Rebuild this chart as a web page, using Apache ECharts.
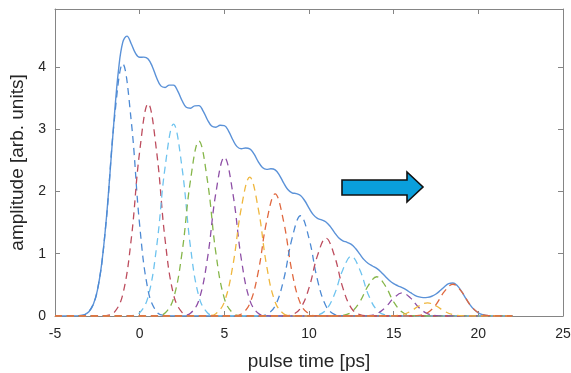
<!DOCTYPE html>
<html>
<head>
<meta charset="utf-8">
<script src="https://cdn.jsdelivr.net/npm/echarts@6/dist/echarts.min.js"></script>
<style>
  html, body { margin: 0; padding: 0; background: #fff; }
  #chart { width: 571px; height: 373px; }
</style>
</head>
<body>
<div id="chart"></div>
<script>
  // envelope (solid line): [pulse time, amplitude]
  var envelope = [
    [-5, 0], [-4, 0], [-3.75, 0.002], [-3.5, 0.007], [-3.25, 0.023], [-3, 0.068],
    [-2.75, 0.178], [-2.5, 0.408], [-2.25, 0.824], [-2, 1.465], [-1.75, 2.301],
    [-1.5, 3.196], [-1.25, 3.949], [-1, 4.394], [-0.75, 4.494], [-0.5, 4.372],
    [-0.25, 4.220], [0, 4.154], [0.25, 4.157], [0.5, 4.128], [0.75, 4.004],
    [1, 3.825], [1.25, 3.695], [1.5, 3.670], [1.75, 3.708], [2, 3.707],
    [2.25, 3.611], [2.5, 3.461], [2.75, 3.352], [3, 3.336], [3.25, 3.375],
    [3.5, 3.378], [3.75, 3.291], [4, 3.152], [4.25, 3.050], [4.5, 3.031],
    [4.75, 3.063], [5, 3.058], [5.25, 2.970], [5.5, 2.830], [5.75, 2.720],
    [6, 2.685], [6.25, 2.698], [6.5, 2.685], [6.75, 2.603], [7, 2.480],
    [7.25, 2.384], [7.5, 2.354], [7.75, 2.364], [8, 2.347], [8.25, 2.264],
    [8.5, 2.139], [8.75, 2.031], [9, 1.979], [9.25, 1.965], [9.5, 1.934],
    [9.75, 1.851], [10, 1.733], [10.25, 1.628], [10.5, 1.568], [10.75, 1.543],
    [11, 1.509], [11.25, 1.439], [11.5, 1.343], [11.75, 1.258], [12, 1.208],
    [12.25, 1.183], [12.5, 1.150], [12.75, 1.084], [13, 0.993], [13.25, 0.905],
    [13.5, 0.843], [13.75, 0.803], [14, 0.764], [14.25, 0.708], [14.5, 0.638],
    [14.75, 0.570], [15, 0.519], [15.25, 0.485], [15.5, 0.455], [15.75, 0.418],
    [16, 0.374], [16.25, 0.333], [16.5, 0.306], [16.75, 0.295], [17, 0.299],
    [17.25, 0.317], [17.5, 0.353], [17.75, 0.408], [18, 0.471], [18.25, 0.521],
    [18.5, 0.531], [18.75, 0.488], [19, 0.399], [19.25, 0.288], [19.5, 0.184],
    [19.75, 0.104], [20, 0.051], [20.25, 0.022], [20.5, 0.009], [20.75, 0.003],
    [21, 0], [22, 0]
  ];

  // single pulses (dashed): centre times and sampled amplitudes around the centre
  var pulseCenters = [-1, 0.5, 2, 3.5, 5, 6.5, 8, 9.5, 11, 12.5, 14, 15.5, 17, 18.5];
  var pulseOffsets = [-2.5, -2, -1.5, -1, -0.5, 0, 0.5, 1, 1.5, 2, 2.5];
  var pulse1  = [0.007, 0.068, 0.408, 1.460, 3.138, 4.05, 3.138, 1.460, 0.408, 0.068, 0.007];
  var pulse2  = [0.006, 0.058, 0.343, 1.229, 2.642, 3.41, 2.642, 1.229, 0.343, 0.058, 0.006];
  var pulse3  = [0.005, 0.052, 0.310, 1.110, 2.386, 3.08, 2.386, 1.110, 0.310, 0.052, 0.005];
  var pulse4  = [0.005, 0.047, 0.283, 1.013, 2.177, 2.81, 2.177, 1.013, 0.283, 0.047, 0.005];
  var pulse5  = [0.004, 0.043, 0.257, 0.919, 1.976, 2.55, 1.976, 0.919, 0.257, 0.043, 0.004];
  var pulse6  = [0.004, 0.038, 0.225, 0.804, 1.728, 2.23, 1.728, 0.804, 0.225, 0.038, 0.004];
  var pulse7  = [0.003, 0.033, 0.197, 0.706, 1.519, 1.96, 1.519, 0.706, 0.197, 0.033, 0.003];
  var pulse8  = [0.003, 0.027, 0.162, 0.580, 1.247, 1.61, 1.247, 0.580, 0.162, 0.027, 0.003];
  var pulse9  = [0.002, 0.021, 0.126, 0.451, 0.969, 1.25, 0.969, 0.451, 0.126, 0.021, 0.002];
  var pulse10 = [0.002, 0.016, 0.097, 0.346, 0.744, 0.96, 0.744, 0.346, 0.097, 0.016, 0.002];
  var pulse11 = [0.001, 0.011, 0.063, 0.227, 0.488, 0.63, 0.488, 0.227, 0.063, 0.011, 0.001];
  var pulse12 = [0.001, 0.006, 0.037, 0.133, 0.287, 0.37, 0.287, 0.133, 0.037, 0.006, 0.001];
  var pulse13 = [0.000, 0.004, 0.021, 0.076, 0.163, 0.21, 0.163, 0.076, 0.021, 0.004, 0.000];
  var pulse14 = [0.001, 0.009, 0.051, 0.184, 0.395, 0.51, 0.395, 0.184, 0.051, 0.009, 0.001];
  var pulses = [pulse1, pulse2, pulse3, pulse4, pulse5, pulse6, pulse7,
                pulse8, pulse9, pulse10, pulse11, pulse12, pulse13, pulse14];

  var xTicks = [-5, 25, 5];   // min, max, step
  var yTicks = [0, 4.93, 1];

  var pulseColors = ['#4d8ad4', '#bd4d5e', '#6ec3ef', '#86b64a', '#8e4fa6', '#efb73e', '#e0683f'];
  var axisColor = '#858585';
  var font = "'Liberation Sans', Arial, sans-serif";

  var chart = echarts.init(document.getElementById('chart'));

  var series = [{
    name: 'sum',
    type: 'line',
    data: envelope,
    smooth: 0.4,
    showSymbol: false,
    lineStyle: { color: '#5b92d8', width: 1.4 },
    z: 2
  }];

  pulses.forEach(function (vals, i) {
    var c = pulseCenters[i];
    var pts = [[-5, 0], [c - 3, 0]];
    vals.forEach(function (v, j) { pts.push([c + pulseOffsets[j], v]); });
    pts.push([c + 3, 0]);
    pts.push([22, 0]);
    series.push({
      name: 'pulse ' + (i + 1),
      type: 'line',
      data: pts,
      smooth: 0.4,
      showSymbol: false,
      lineStyle: { color: pulseColors[i % 7], width: 1.3, type: [7, 5] },
      z: 3
    });
  });

  var mirrorAxis = {
    axisLine: { show: true, onZero: false, lineStyle: { color: axisColor, width: 1 } },
    axisTick: { show: true, inside: true, length: 5, lineStyle: { color: axisColor } },
    axisLabel: { show: false },
    splitLine: { show: false }
  };

  chart.setOption({
    animation: false,
    backgroundColor: '#fff',
    grid: { left: 55, right: 8, top: 9, bottom: 57, containLabel: false, outerBoundsMode: 'none' },
    xAxis: [{
      type: 'value',
      min: xTicks[0], max: xTicks[1], interval: xTicks[2],
      name: 'pulse time [ps]',
      nameLocation: 'middle',
      nameGap: 36,
      nameTextStyle: { fontSize: 19, color: '#262626', fontFamily: font },
      axisLine: { show: true, onZero: false, lineStyle: { color: axisColor, width: 1 } },
      axisTick: { show: true, inside: true, length: 5, lineStyle: { color: axisColor } },
      axisLabel: { fontSize: 14, color: '#262626', fontFamily: font, margin: 11 },
      splitLine: { show: false }
    }, Object.assign({
      type: 'value', position: 'top',
      min: xTicks[0], max: xTicks[1], interval: xTicks[2]
    }, mirrorAxis)],
    yAxis: [{
      type: 'value',
      min: yTicks[0], max: yTicks[1], interval: yTicks[2],
      name: 'amplitude [arb. units]',
      nameLocation: 'middle',
      nameGap: 22,
      nameTextStyle: { fontSize: 19, color: '#262626', fontFamily: font },
      axisLine: { show: true, onZero: false, lineStyle: { color: axisColor, width: 1 } },
      axisTick: { show: true, inside: true, length: 5, lineStyle: { color: axisColor } },
      axisLabel: { fontSize: 14, color: '#262626', fontFamily: font, margin: 9, showMaxLabel: false },
      splitLine: { show: false }
    }, Object.assign({
      type: 'value', position: 'right',
      min: yTicks[0], max: yTicks[1], interval: yTicks[2]
    }, mirrorAxis)],
    graphic: [{
      // arrow annotation
      type: 'polygon',
      shape: {
        points: [[342, 180], [407, 180], [407, 172], [423, 187], [407, 202], [407, 195], [342, 195]]
      },
      style: { fill: '#0a9fdc', stroke: '#111', lineWidth: 1.6 },
      z: 10
    }],
    series: series
  });
</script>
</body>
</html>
